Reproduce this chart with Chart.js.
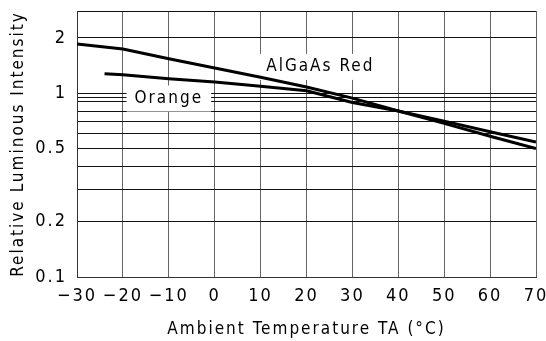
<!DOCTYPE html>
<html>
<head>
<meta charset="utf-8">
<script src="https://cdn.jsdelivr.net/npm/chart.js@4"></script>
<style>
  html, body { margin: 0; padding: 0; background: #fff; }
  #chart { display: block; }
</style>
</head>
<body>
<canvas id="chart" width="546" height="341"></canvas>
<script>
// temperatures (°C) and relative luminous intensity
const redTemps = [-30, -20, -10, 0, 10, 20, 30, 40, 50, 60, 70];
const redValues = [1.85, 1.74, 1.54, 1.37, 1.22, 1.08, 0.94, 0.80, 0.685, 0.583, 0.50];

const orangeTemps = [-24, -20, -10, 0, 10, 20, 30, 40, 50, 60, 70];
const orangeValues = [1.275, 1.26, 1.20, 1.15, 1.09, 1.03, 0.89, 0.80, 0.705, 0.617, 0.542];

// log axis: grid lines and the ones that carry a label
const yGrid = [0.1, 0.2, 0.3, 0.4, 0.5, 0.6, 0.7, 0.8, 0.9, 0.95, 1, 2, 2.8];
const yLabels = [0.1, 0.2, 0.5, 1, 2];

const FONT = "'Liberation Sans Narrow', 'DejaVu Sans Condensed', sans-serif";
const SPACING = "2px";

function pairs(xs, ys) {
  return xs.map((x, i) => ({ x: x, y: ys[i] }));
}

/* ================= curve labels (white boxes over the grid) ================= */

const curveLabels = {
  id: "curveLabels",
  beforeUpdate(chart) {
    chart.ctx.letterSpacing = SPACING;
  },
  beforeDraw(chart) {
    chart.ctx.letterSpacing = SPACING;
  },
  beforeDatasetsDraw(chart) {
    const { ctx, scales } = chart;
    const items = [
      { text: "AlGaAs Red", t: 23, v: 1.39 },
      { text: "Orange", t: -10, v: 0.935 },
    ];
    ctx.save();
    ctx.font = "17px " + FONT;
    ctx.textAlign = "center";
    ctx.textBaseline = "middle";
    items.forEach((it) => {
      const x = scales.x.getPixelForValue(it.t);
      const y = scales.y.getPixelForValue(it.v);
      const w = ctx.measureText(it.text).width;
      ctx.fillStyle = "#fff";
      ctx.fillRect(x - w / 2 - 8, y - 13, w + 16, 26);
      ctx.fillStyle = "#000";
      ctx.fillText(it.text, x, y);
    });
    ctx.restore();
  },
};

new Chart(document.getElementById("chart"), {
  type: "line",
  data: {
    datasets: [
      {
        label: "AlGaAs Red",
        data: pairs(redTemps, redValues),
        borderColor: "#000",
        borderWidth: 3,
        pointRadius: 0,
        fill: false,
      },
      {
        label: "Orange",
        data: pairs(orangeTemps, orangeValues),
        borderColor: "#000",
        borderWidth: 3,
        pointRadius: 0,
        fill: false,
      },
    ],
  },
  options: {
    responsive: false,
    animation: false,
    layout: { padding: { top: 11, right: 10, left: 0, bottom: 0 } },
    plugins: {
      legend: { display: false },
      tooltip: { enabled: false },
    },
    scales: {
      x: {
        type: "linear",
        min: -30,
        max: 70,
        afterFit(scale) {
          scale.height = 64;
          scale.paddingLeft = 0;
          scale.paddingRight = 0;
        },
        grid: { color: "#666", lineWidth: 1, drawTicks: false },
        border: { display: true, color: "#333" },
        ticks: {
          stepSize: 10,
          padding: 9,
          maxRotation: 0,
          minRotation: 0,
          autoSkip: false,
          color: "#000",
          font: { family: FONT, size: 18 },
          callback: (v) => String(v).replace("-", "\u2212"),
        },
        title: {
          display: true,
          text: "Ambient Temperature TA (°C)",
          color: "#000",
          font: { family: FONT, size: 17 },
          padding: { top: 0, bottom: 1 },
        },
      },
      y: {
        type: "logarithmic",
        min: 0.1,
        max: 2.8,
        afterFit(scale) {
          scale.width = 77;
          scale.paddingTop = 0;
          scale.paddingBottom = 0;
        },
        afterBuildTicks(scale) {
          scale.ticks = yGrid.map((v) => ({ value: v }));
        },
        grid: { color: "#111", lineWidth: 1, drawTicks: false },
        border: { display: true, color: "#333" },
        ticks: {
          padding: 10,
          color: "#000",
          autoSkip: false,
          font: { family: FONT, size: 18 },
          callback: (v) => (yLabels.includes(v) ? String(v) : ""),
        },
        title: {
          display: true,
          text: "Relative Luminous Intensity",
          color: "#000",
          font: { family: FONT, size: 17 },
          padding: { top: 8, bottom: 0 },
        },
      },
    },
  },
  plugins: [curveLabels],
});
</script>
</body>
</html>
